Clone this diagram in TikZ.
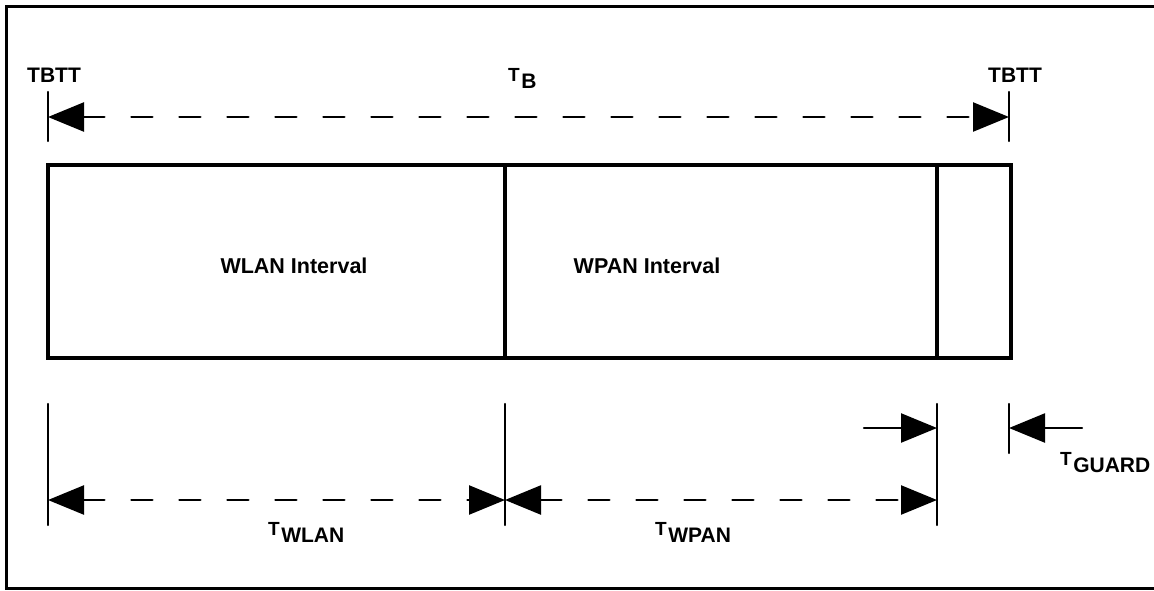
\documentclass[tikz,border=0pt]{standalone}
\usepackage{fontspec}
\setmainfont{Liberation Sans}
\usetikzlibrary{arrows.meta}
\newcommand{\tsub}[1]{{\fontsize{19}{19}\selectfont T}\kern1.5pt\raisebox{-7pt}{\fontsize{21}{21}\selectfont #1}}
\begin{document}
\begin{tikzpicture}[x=1pt,y=-1pt,
  frame/.style={line width=3pt},
  boxline/.style={line width=3.3pt},
  tickline/.style={line width=2.4pt,line cap=round},
  dimline/.style={line width=2.4pt,line cap=round,dash pattern=on 21pt off 27pt},
  solidarr/.style={line width=2.4pt,line cap=round},
  >={Triangle[length=36pt,width=29pt]},
  lab/.style={font=\bfseries\fontsize{21}{21}\selectfont,anchor=base,inner sep=0pt},
  sublab/.style={font=\bfseries,anchor=base west,inner sep=0pt},
]
\useasboundingbox (0,0) rectangle (1154,590);
% outer frame
\coordinate (f1) at (1154,6);
\coordinate (f2) at (6,6);
\coordinate (f3) at (6,588);
\coordinate (f4) at (1154,588);
\draw[frame] (f1) -- (f2) -- (f3) -- (f4);

% top dimension
\coordinate (tl1) at (48,92);
\coordinate (tl2) at (48,141);
\coordinate (tr1) at (1009,92);
\coordinate (tr2) at (1009,141);
\coordinate (al) at (48,117);
\coordinate (ar) at (1009,117);
\draw[tickline] (tl1) -- (tl2);
\draw[tickline] (tr1) -- (tr2);
\draw[dimline,<->] (al) -- (ar);
\node[lab] (tbttl) at (54,82) {TBTT};
\node[lab] (tbttr) at (1015,82) {TBTT};
\node[sublab] (tb) at (508,81) {\tsub{B}};

% box
\coordinate (b1) at (48,165);
\coordinate (b2) at (1011,358);
\coordinate (d1t) at (505,165);
\coordinate (d1b) at (505,358);
\coordinate (d2t) at (937,165);
\coordinate (d2b) at (937,358);
\draw[boxline] (b1) rectangle (b2);
\draw[boxline] (d1t) -- (d1b);
\draw[boxline] (d2t) -- (d2b);
\node[lab,font=\bfseries\fontsize{21.5}{21.5}\selectfont] (wlan) at (294,273) {WLAN Interval};
\node[lab,font=\bfseries\fontsize{21.5}{21.5}\selectfont] (wpan) at (647,273) {WPAN Interval};

% lower ticks
\coordinate (k1t) at (48,404);
\coordinate (k1b) at (48,525);
\coordinate (k2t) at (505,404);
\coordinate (k2b) at (505,525);
\coordinate (k3t) at (937,404);
\coordinate (k3b) at (937,525);
\coordinate (k4t) at (1009,404);
\coordinate (k4b) at (1009,453);
\draw[tickline] (k1t) -- (k1b);
\draw[tickline] (k2t) -- (k2b);
\draw[tickline] (k3t) -- (k3b);
\draw[tickline] (k4t) -- (k4b);

% lower dimensions
\coordinate (l1) at (48,500);
\coordinate (l2) at (505,500);
\coordinate (l3) at (937,500);
\draw[dimline,<->] (l1) -- (l2);
\draw[dimline,<->] (l2) -- (l3);
\coordinate (g1) at (864,428);
\coordinate (g2) at (937,428);
\coordinate (g3) at (1082,428);
\coordinate (g4) at (1009,428);
\draw[solidarr,->] (g1) -- (g2);
\draw[solidarr,->] (g3) -- (g4);

\node[sublab] (twlan) at (268,535) {\tsub{WLAN}};
\node[sublab] (twpan) at (655,535) {\tsub{WPAN}};
\node[sublab] (tguard) at (1060,465) {\tsub{GUARD}};
\end{tikzpicture}
\end{document}
